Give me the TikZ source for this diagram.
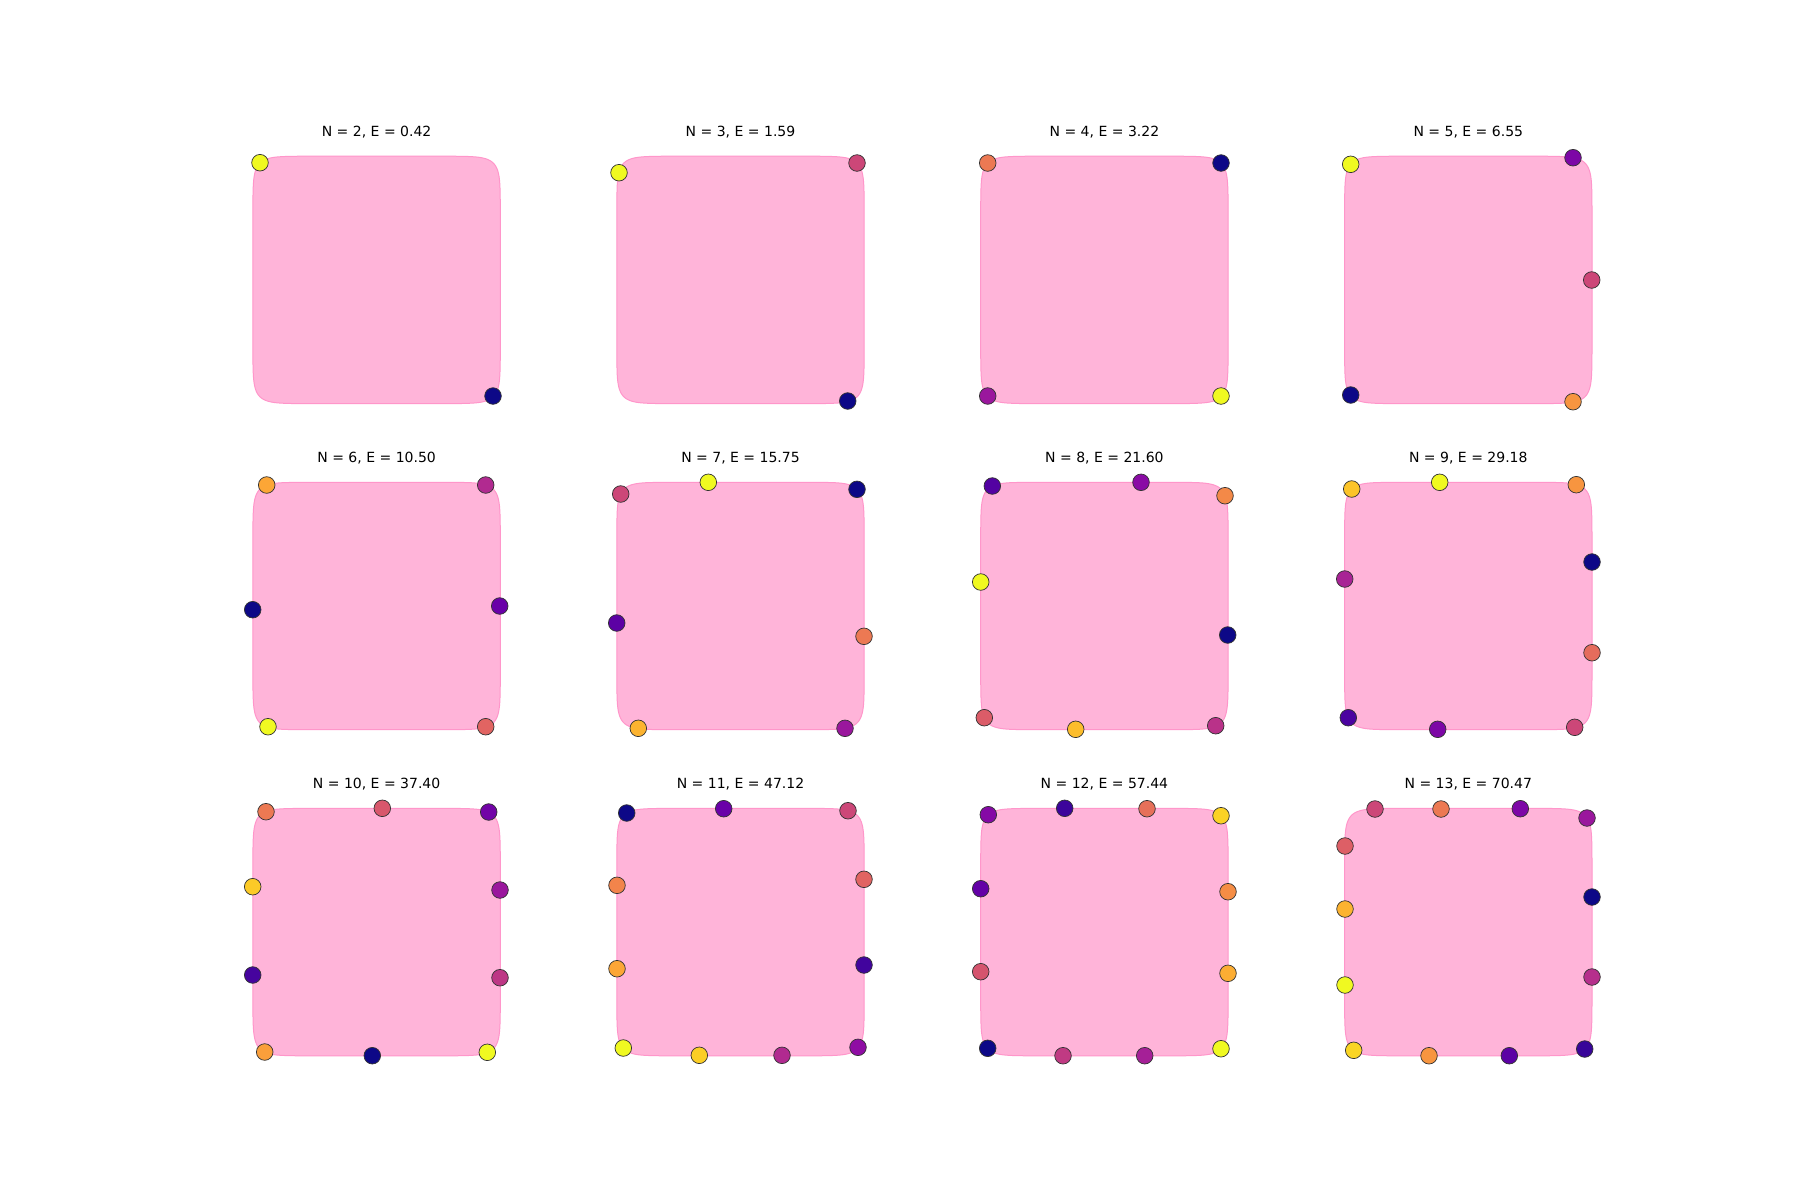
\documentclass[tikz,border=0pt]{standalone}
\usepackage{fontspec}
\setmainfont{DejaVu Sans}
\definecolor{pl0}{RGB}{13,8,135}
\definecolor{pl1}{RGB}{65,4,157}
\definecolor{pl2}{RGB}{106,0,168}
\definecolor{pl3}{RGB}{143,13,164}
\definecolor{pl4}{RGB}{177,42,144}
\definecolor{pl5}{RGB}{204,71,120}
\definecolor{pl6}{RGB}{225,100,98}
\definecolor{pl7}{RGB}{242,132,75}
\definecolor{pl8}{RGB}{252,166,54}
\definecolor{pl9}{RGB}{252,206,37}
\definecolor{pl10}{RGB}{240,249,33}
\definecolor{sqfill}{RGB}{255,180,217}
\definecolor{sqedge}{RGB}{255,150,202}
\tikzset{
  dot/.style={circle,draw=black!80,line width=0.7pt,minimum size=16.6pt,inner sep=0pt},
  sq/.style={fill=sqfill,draw=sqedge,line width=1pt},
  ttl/.style={anchor=base,font=\fontsize{14}{16}\selectfont,text=black}
}
\newcommand\squircle{\path[sq] plot[domain=0.5:359.5,samples=360,variable=\t]
  ({123.7*cos(\t)*pow(abs(cos(\t)),-5/6)},{123.7*sin(\t)*pow(abs(sin(\t)),-5/6)}) -- cycle;}
\newcommand\dt[4]{\node[dot,fill=#4] (#1) at (#2,#3) {};}
\begin{document}
\begin{tikzpicture}[x=1pt,y=-1pt]
\useasboundingbox[fill=white] (0,0) rectangle (1800,1200);
% N=2
\begin{scope}[shift={(376.6,279.9)}]
\squircle
\node[ttl] (t2) at (0,-143.4) {N = 2, E = 0.42};
\dt{a2}{-116.6}{-117.2}{pl10}
\dt{b2}{116.4}{116.1}{pl0}
\end{scope}
% N=3
\begin{scope}[shift={(740.5,279.9)}]
\squircle
\node[ttl] (t3) at (0,-143.4) {N = 3, E = 1.59};
\dt{a3}{-121.5}{-107.2}{pl10}
\dt{b3}{116.5}{-116.9}{pl5}
\dt{c3}{107.2}{121.1}{pl0}
\end{scope}
% N=4
\begin{scope}[shift={(1104.4,279.9)}]
\squircle
\node[ttl] (t4) at (0,-143.4) {N = 4, E = 3.22};
\dt{a4}{-116.7}{-116.9}{pl6!33!pl7}
\dt{b4}{116.6}{-116.9}{pl0}
\dt{c4}{-116.7}{116.1}{pl3!67!pl4}
\dt{d4}{116.6}{116.1}{pl10}
\end{scope}
% N=5
\begin{scope}[shift={(1468.3,279.9)}]
\squircle
\node[ttl] (t5) at (0,-143.4) {N = 5, E = 6.55};
\dt{a5}{-117.6}{-115.6}{pl10}
\dt{b5}{104.7}{-122.2}{pl2!50!pl3}
\dt{c5}{123.4}{0.1}{pl5}
\dt{d5}{104.7}{121.8}{pl7!50!pl8}
\dt{e5}{-117.6}{115.1}{pl0}
\end{scope}
% N=6
\begin{scope}[shift={(376.6,606.0)}]
\squircle
\node[ttl] (t6) at (0,-143.4) {N = 6, E = 10.50};
\dt{a6}{-109.9}{-121}{pl8}
\dt{b6}{109.1}{-121}{pl4}
\dt{c6}{-123.9}{3.7}{pl0}
\dt{d6}{123.1}{0}{pl2}
\dt{e6}{-108.6}{120.7}{pl10}
\dt{f6}{109.1}{120.7}{pl6}
\end{scope}
% N=7
\begin{scope}[shift={(740.5,606.0)}]
\squircle
\node[ttl] (t7) at (0,-143.4) {N = 7, E = 15.75};
\dt{a7}{-119.8}{-112}{pl5}
\dt{b7}{-32.2}{-123.7}{pl10}
\dt{c7}{116.5}{-116.7}{pl0}
\dt{d7}{-123.8}{17}{pl1!33!pl2}
\dt{e7}{123.5}{30.3}{pl6!33!pl7}
\dt{f7}{-102.2}{122.3}{pl8!67!pl9}
\dt{g7}{104.5}{122.3}{pl3!67!pl4}
\end{scope}
% N=8
\begin{scope}[shift={(1104.4,606.0)}]
\squircle
\node[ttl] (t8) at (0,-143.4) {N = 8, E = 21.60};
\dt{a8}{-112.1}{-120}{pl1!57!pl2}
\dt{b8}{36.6}{-123.7}{pl2!14!pl3}
\dt{c8}{120.6}{-110.3}{pl7!86!pl8}
\dt{d8}{-123.7}{-24}{pl10}
\dt{e8}{123.3}{29}{pl0}
\dt{f8}{-120.1}{111.7}{pl5!29!pl6}
\dt{g8}{-28.7}{123.3}{pl8!43!pl9}
\dt{h8}{111.3}{119.7}{pl4!71!pl5}
\end{scope}
% N=9
\begin{scope}[shift={(1468.3,606.0)}]
\squircle
\node[ttl] (t9) at (0,-143.4) {N = 9, E = 29.18};
\dt{a9}{-116.6}{-117}{pl8!25!pl9}
\dt{b9}{-28.6}{-123.7}{pl10}
\dt{c9}{108}{-121.3}{pl7!50!pl8}
\dt{d9}{-123.6}{-27}{pl3!25!pl4}
\dt{e9}{123.7}{-44}{pl0}
\dt{f9}{123.7}{46.7}{pl6!75!pl7}
\dt{g9}{-120}{111.7}{pl1!75!pl2}
\dt{h9}{-30.6}{123.3}{pl2!50!pl3}
\dt{i9}{106.4}{121.3}{pl5}
\end{scope}
% N=10
\begin{scope}[shift={(376.6,932.1)}]
\squircle
\node[ttl] (t10) at (0,-143.4) {N = 10, E = 37.40};
\dt{a10}{-110.6}{-120.4}{pl6!33!pl7}
\dt{b10}{5.7}{-123.8}{pl5!44!pl6}
\dt{c10}{112.1}{-120.1}{pl2!78!pl3}
\dt{d10}{-123.9}{-45.4}{pl8!11!pl9}
\dt{e10}{123.4}{-42.1}{pl3!67!pl4}
\dt{f10}{-123.9}{42.9}{pl1!89!pl2}
\dt{g10}{123.4}{45.6}{pl4!56!pl5}
\dt{h10}{-111.9}{119.9}{pl7!22!pl8}
\dt{i10}{-4.3}{123.6}{pl0}
\dt{j10}{110.7}{120.2}{pl10}
\end{scope}
% N=11
\begin{scope}[shift={(740.5,932.1)}]
\squircle
\node[ttl] (t11) at (0,-143.4) {N = 11, E = 47.12};
\dt{a11}{-113.8}{-119.1}{pl0}
\dt{b11}{-16.8}{-123.4}{pl2}
\dt{c11}{107.5}{-121.4}{pl5}
\dt{d11}{-123.5}{-46.8}{pl7}
\dt{e11}{123.5}{-52.8}{pl6}
\dt{f11}{-123.5}{36.6}{pl8}
\dt{g11}{123.5}{32.9}{pl1}
\dt{h11}{-117.2}{115.9}{pl10}
\dt{i11}{-41.2}{123.2}{pl9}
\dt{j11}{41.5}{123.2}{pl4}
\dt{k11}{117.5}{115.2}{pl3}
\end{scope}
% N=12
\begin{scope}[shift={(1104.4,932.1)}]
\squircle
\node[ttl] (t12) at (0,-143.4) {N = 12, E = 57.44};
\dt{a12}{-116.1}{-117.4}{pl2!27!pl3}
\dt{b12}{-39.7}{-123.8}{pl0!9!pl1}
\dt{c12}{42.6}{-123.4}{pl6!64!pl7}
\dt{d12}{116.6}{-116.4}{pl9!91!pl10}
\dt{e12}{-123.7}{-43.4}{pl1!18!pl2}
\dt{f12}{123.6}{-40.4}{pl7!73!pl8}
\dt{g12}{-123.7}{39.6}{pl5!55!pl6}
\dt{h12}{123.6}{41.2}{pl8!82!pl9}
\dt{i12}{-116.7}{116.2}{pl0}
\dt{j12}{-41.4}{123.6}{pl4!45!pl5}
\dt{k12}{40.3}{123.6}{pl3!36!pl4}
\dt{l12}{116.6}{116.6}{pl10}
\end{scope}
% N=13
\begin{scope}[shift={(1468.3,932.1)}]
\squircle
\node[ttl] (t13) at (0,-143.4) {N = 13, E = 70.47};
\dt{a13}{-93.3}{-123.1}{pl5}
\dt{b13}{-27.3}{-123.1}{pl6!33!pl7}
\dt{c13}{52}{-123.4}{pl2!50!pl3}
\dt{d13}{118.7}{-114.1}{pl3!67!pl4}
\dt{e13}{-123.3}{-86.1}{pl5!17!pl6}
\dt{f13}{123.7}{-35.1}{pl0}
\dt{g13}{-123.3}{-23.1}{pl8!67!pl9}
\dt{h13}{123.7}{44.9}{pl4!83!pl5}
\dt{i13}{-123.3}{52.9}{pl10}
\dt{j13}{-114.6}{118.2}{pl9!83!pl10}
\dt{k13}{-39.3}{123.6}{pl7!50!pl8}
\dt{l13}{41}{123.6}{pl1!33!pl2}
\dt{m13}{116.4}{116.9}{pl0!17!pl1}
\end{scope}
\end{tikzpicture}
\end{document}
